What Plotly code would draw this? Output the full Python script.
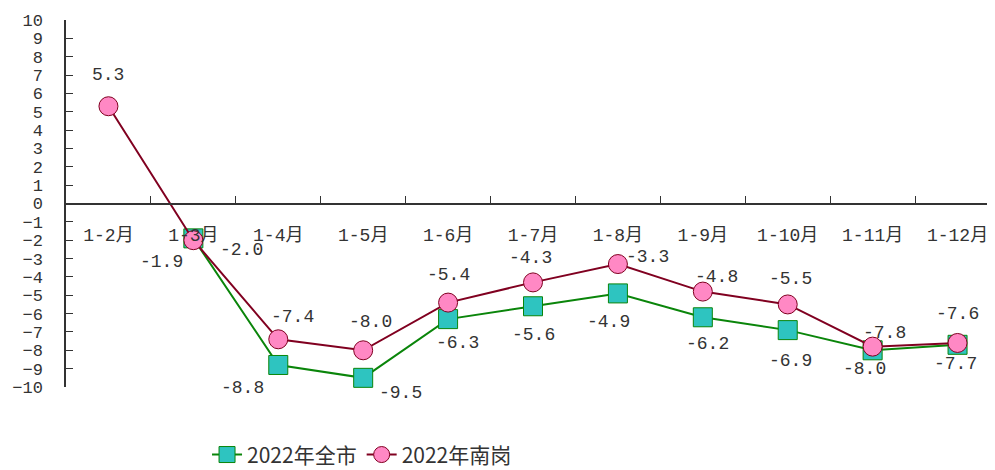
import plotly.graph_objects as go

months = ["1-2月", "1-3月", "1-4月", "1-5月", "1-6月", "1-7月", "1-8月", "1-9月", "1-10月", "1-11月", "1-12月"]
city = [None, -1.9, -8.8, -9.5, -6.3, -5.6, -4.9, -6.2, -6.9, -8.0, -7.7]
nangang = [5.3, -2.0, -7.4, -8.0, -5.4, -4.3, -3.3, -4.8, -5.5, -7.8, -7.6]

FONT = "Liberation Mono, Noto Sans CJK SC, monospace"

# label offsets from the marker (pixels, y up)
city_shift = [(0, 0), (-32, -24), (-36, -23), (37, -15), (9, -24), (0, -29),
              (-9, -29), (5, -27), (3, -31), (-8, -19), (-2, -19)]
nangang_shift = [(0, 31), (48, -10), (14, 22), (7, 28), (0, 28), (-3, 24),
                 (30, 7), (14, 15), (3, 25), (12, 14), (0, 29)]

fig = go.Figure()

fig.add_trace(go.Scatter(
    x=months, y=city, name="2022年全市",
    mode="lines+markers", cliponaxis=False,
    line=dict(color="#0a850a", width=2),
    marker=dict(symbol="square", size=19, color="#2ec4c0", line=dict(color="#0a850a", width=1)),
))

fig.add_trace(go.Scatter(
    x=months, y=nangang, name="2022年南岗",
    mode="lines+markers", cliponaxis=False,
    line=dict(color="#800020", width=2),
    marker=dict(symbol="circle", size=19, color="#ff88c4", line=dict(color="#800020", width=1)),
))

for vals, shifts in ((city, city_shift), (nangang, nangang_shift)):
    for m, v, (dx, dy) in zip(months, vals, shifts):
        if v is None:
            continue
        fig.add_annotation(x=m, y=v, text=f"{v:.1f}", showarrow=False,
                           xshift=dx, yshift=dy,
                           font=dict(size=18, color="#333333", family=FONT))

# the page body adds an 8px margin, so plot margins are shifted by it
fig.update_layout(
    width=995, height=470,
    paper_bgcolor="white", plot_bgcolor="white",
    margin=dict(l=58, r=3, t=12, b=88),
    font=dict(family=FONT, size=17, color="#333333"),
    showlegend=True,
    legend=dict(orientation="h", x=0.151, y=-0.185, xanchor="left", yanchor="middle",
                font=dict(size=21, family="Noto Sans CJK SC"), itemwidth=30,
                traceorder="normal"),
    xaxis=dict(
        type="category", anchor="free", position=0.5, automargin=False,
        showline=True, linecolor="#333333", linewidth=1.5,
        ticks="inside", ticklen=7, tickcolor="#333333", tickson="boundaries",
        ticklabelstandoff=15, showgrid=False, zeroline=False,
        range=[-0.5, 10.5], tickfont=dict(size=18),
    ),
    yaxis=dict(
        range=[-10, 10], dtick=1, showline=True, linecolor="#333333", linewidth=1.5,
        ticks="inside", ticklen=7, tickcolor="#333333", automargin=False,
        showgrid=False, zeroline=False, ticklabelstandoff=18, tickfont=dict(size=17),
    ),
)

fig.write_html("out.html")
